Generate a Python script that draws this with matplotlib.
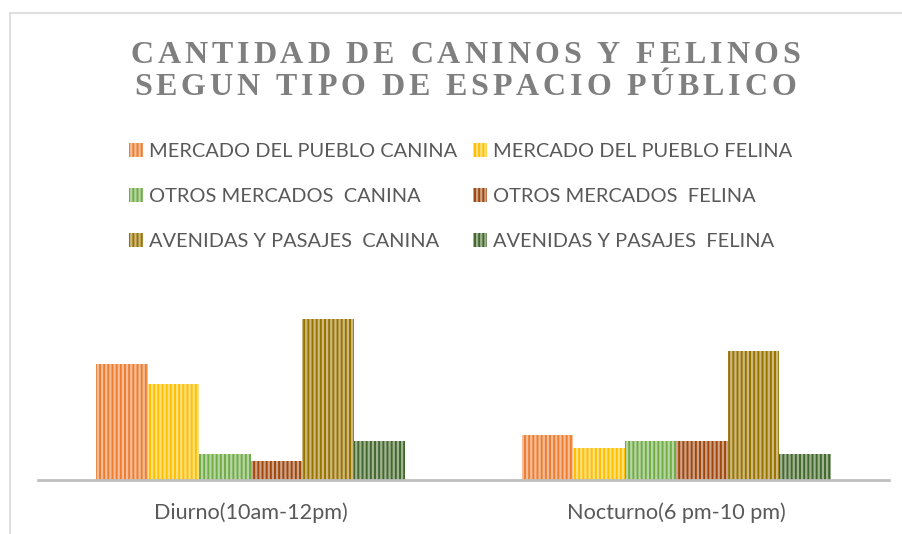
import matplotlib
matplotlib.use("Agg")
import matplotlib.pyplot as plt
import numpy as np
from matplotlib.colors import to_rgb
from matplotlib.font_manager import FontProperties, findfont, get_font
from matplotlib.lines import Line2D
from matplotlib.patches import Rectangle

W, H = 903, 534
DPI = 100

CATEGORIES = ["Diurno(10am-12pm)", "Nocturno(6 pm-10 pm)"]
SERIES = [
    "MERCADO DEL PUEBLO CANINA",
    "MERCADO DEL PUEBLO FELINA",
    "OTROS MERCADOS  CANINA",
    "OTROS MERCADOS  FELINA",
    "AVENIDAS Y PASAJES  CANINA",
    "AVENIDAS Y PASAJES  FELINA",
]
DIURNO = [18, 15, 4, 3, 25, 6]
NOCTURNO = [7, 5, 6, 6, 20, 4]
COLORS = ["#ED7D31", "#FFC000", "#70AD47", "#9E480E", "#997300", "#43682B"]
TITLE_LINES = ["CANTIDAD DE CANINOS Y FELINOS", "SEGUN TIPO DE ESPACIO PÚBLICO"]

TEXT_GRAY = "#595959"
TITLE_GRAY = "#7f7f7f"

plt.rcParams["hatch.linewidth"] = 1.6


def fx(px):
    return px / W


def fy(py):
    # pixel row measured from the top -> figure fraction
    return 1 - py / H


def tint(color, amount):
    rgb = np.array(to_rgb(color))
    return tuple(rgb + (1 - rgb) * amount)


def spaced_text(fig, text, cx, baseline, size, spacing, color):
    # matplotlib has no letter spacing, so place the characters one by one
    prop = FontProperties(family="Liberation Serif", weight="bold", size=size)
    font = get_font(findfont(prop))
    font.set_size(size, DPI)
    advances = [font.load_char(ord(ch)).linearHoriAdvance / 65536 for ch in text]
    total = sum(advances) + spacing * (len(text) - 1)
    x = cx - total / 2
    for ch, adv in zip(text, advances):
        if ch != " ":
            fig.text(fx(x), fy(baseline), ch, fontproperties=prop, color=color,
                     ha="left", va="baseline")
        x += adv + spacing


fig = plt.figure(figsize=(W / DPI, H / DPI), dpi=DPI)
fig.patch.set_facecolor("white")

# chart area border (only top and left are visible in the crop)
fig.add_artist(Line2D([fx(10.5), 1], [fy(12.5), fy(12.5)], color="#d9d9d9", lw=1.2))
fig.add_artist(Line2D([fx(10.5), fx(10.5)], [fy(12.5), 0], color="#d9d9d9", lw=1.2))

spaced_text(fig, TITLE_LINES[0], 465, 63, 23, 3.9, TITLE_GRAY)
spaced_text(fig, TITLE_LINES[1], 465, 95, 23, 3.9, TITLE_GRAY)

# legend, laid out row by row like the original
legend_rows = [150, 195, 240]
legend_cols = [129, 473]
for i, (name, color) in enumerate(zip(SERIES, COLORS)):
    row_y = legend_rows[i // 2]
    col_x = legend_cols[i % 2]
    fig.add_artist(Rectangle((fx(col_x), fy(row_y + 7)), 14 / W, 14 / H,
                             transform=fig.transFigure, facecolor=color,
                             edgecolor=tint(color, 0.5), linewidth=0, hatch="||||"))
    fig.text(fx(col_x + 20), fy(row_y + 7), name, fontfamily="Lato", fontsize=14.4,
             color=TEXT_GRAY, ha="left", va="baseline")

ax = fig.add_axes([fx(38), fy(480), (889 - 38) / W, (480 - 287) / H])
x = np.arange(len(CATEGORIES))
values = np.array([DIURNO, NOCTURNO])
width = 0.121

for i, (name, color) in enumerate(zip(SERIES, COLORS)):
    offset = (i - (len(SERIES) - 1) / 2) * width
    ax.bar(x + offset, values[:, i], width, color=color,
           edgecolor=tint(color, 0.5), linewidth=0, hatch="||||", label=name)

ax.set_xlim(-0.5, 1.5)
ax.set_ylim(0, 30)
for side in ["top", "left", "right"]:
    ax.spines[side].set_visible(False)
ax.spines["bottom"].set_color("#bfbfbf")
ax.spines["bottom"].set_linewidth(2)
ax.set_yticks([])
ax.set_xticks(x, CATEGORIES, fontfamily="Lato", fontsize=15.6, color=TEXT_GRAY)
ax.tick_params(axis="x", length=0, pad=16)
ax.set_facecolor("none")

fig.savefig("out.png", dpi=DPI)
